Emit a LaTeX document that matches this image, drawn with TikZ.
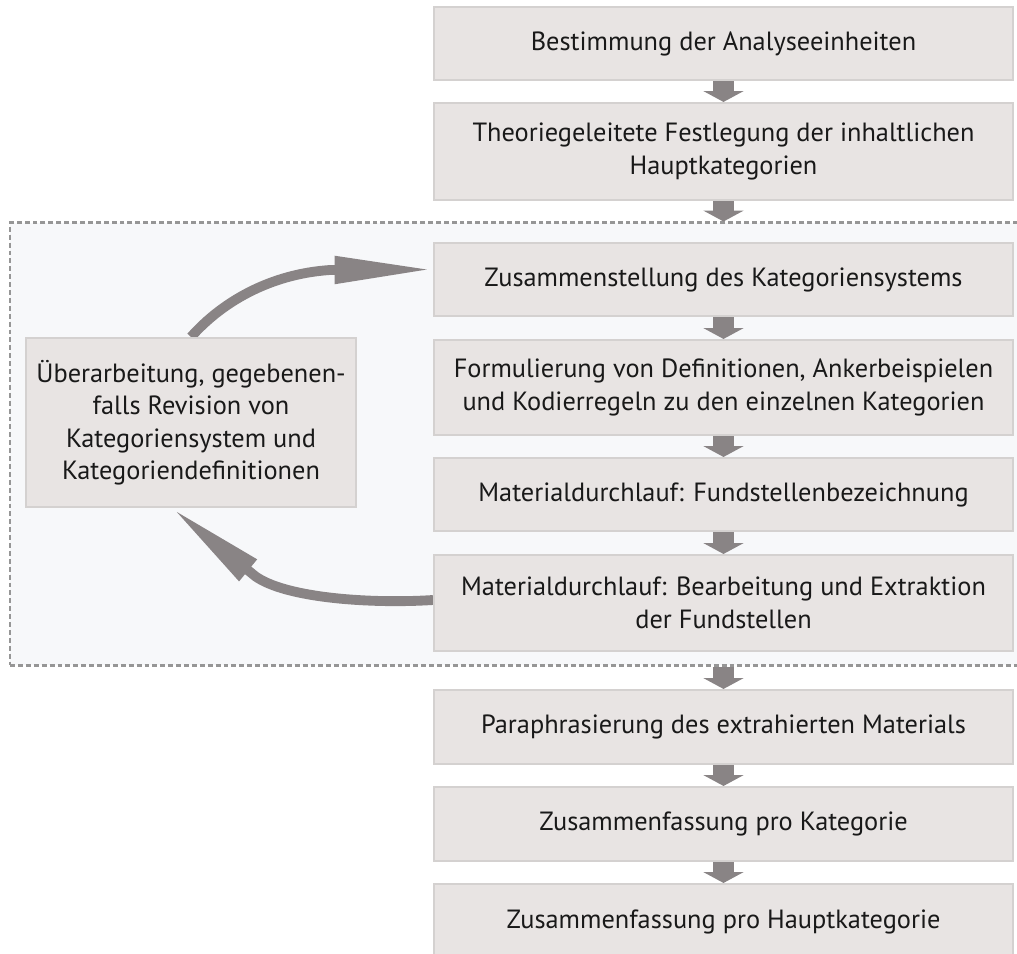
\documentclass[tikz,border=0pt]{standalone}
\usepackage{fontspec}
\setmainfont{PT Sans}
\usetikzlibrary{arrows.meta,backgrounds,calc}
\definecolor{boxfill}{RGB}{232,228,227}
\definecolor{boxline}{RGB}{212,209,208}
\definecolor{arrowgray}{RGB}{137,132,133}
\definecolor{loopfill}{RGB}{247,248,250}
\definecolor{loopline}{RGB}{150,150,150}
\tikzset{
  stepbox/.style={draw=boxline, line width=1.2pt, fill=boxfill, text=black!90,
    minimum width=11.58cm, align=center, inner sep=0pt,
    font=\fontsize{15}{18.5}\selectfont},
  revbox/.style={stepbox, minimum width=6.6cm, minimum height=3.38cm},
  loopbox/.style={draw=loopline, line width=1.2pt, dash pattern=on 2.8pt off 1.7pt,
    fill=loopfill, minimum width=20.2cm, minimum height=8.86cm, inner sep=0pt},
  flow/.style={draw=arrowgray, line width=12.4pt, -{Triangle[length=6.2pt,width=22.7pt]}},
  loop arrow/.style={draw=arrowgray, line width=5.6pt, -{Triangle[length=56pt,width=14.5pt]}},
}

\begin{document}
\begin{tikzpicture}[x=0.02cm,y=-0.02cm]
    \useasboundingbox (0,0) rectangle (1017,953);
    % steps
    \node[stepbox, minimum height=1.46cm] (b1) at (723.5,43.5) {Bestimmung der Analyseeinheiten};
    \node[stepbox, minimum height=1.94cm] (b2) at (723.5,151.5) {Theoriegeleitete Festlegung der inhaltlichen\\Hauptkategorien};
    \node[stepbox, minimum height=1.46cm] (b3) at (723.5,279.5) {Zusammenstellung des Kategoriensystems};
    \node[stepbox, minimum height=1.90cm] (b4) at (723.5,387.5) {Formulierung von Definitionen, Ankerbeispielen\\und Kodierregeln zu den einzelnen Kategorien};
    \node[stepbox, minimum height=1.46cm] (b5) at (723.5,494.5) {Materialdurchlauf: Fundstellenbezeichnung};
    \node[stepbox, minimum height=1.92cm] (b6) at (723.5,603) {Materialdurchlauf: Bearbeitung und Extraktion\\der Fundstellen};
    \node[stepbox, minimum height=1.48cm] (b7) at (723.5,727) {Paraphrasierung des extrahierten Materials};
    \node[stepbox, minimum height=1.48cm] (b8) at (723.5,824) {Zusammenfassung pro Kategorie};
    \node[stepbox, minimum height=1.52cm] (b9) at (723.5,922) {Zusammenfassung pro Hauptkategorie};
    \node[revbox] (rev) at (191,422.5) {\"Uberarbeitung, gegebenen-\\falls Revision von\\Kategoriensystem und\\Kategoriendefinitionen};
    %
    \begin{pgfonlayer}{background}
    \node[loopbox] (loop) at (515,444) {};
    \draw[loop arrow] (rev.north) .. controls (222,302) and (270,274) .. (330,270) -- ($(b3.west)+(0,-10)$);
    \draw[loop arrow] ($(b6.west)+(0,-3)$) .. controls (370,604) and (285,598) .. (255,576) -- ($(rev.south)+(-19,0)$);
    \end{pgfonlayer}
    %
    \draw[flow] (b1) -- (b2);
    \draw[flow] (b2) -- (b2 |- loop.north);
    \draw[flow] (b3) -- (b4);
    \draw[flow] (b4) -- (b5);
    \draw[flow] (b5) -- (b6);
    \draw[flow] (b7 |- loop.south) -- (b7);
    \draw[flow] (b7) -- (b8);
    \draw[flow] (b8) -- (b9);
\end{tikzpicture}
\end{document}
